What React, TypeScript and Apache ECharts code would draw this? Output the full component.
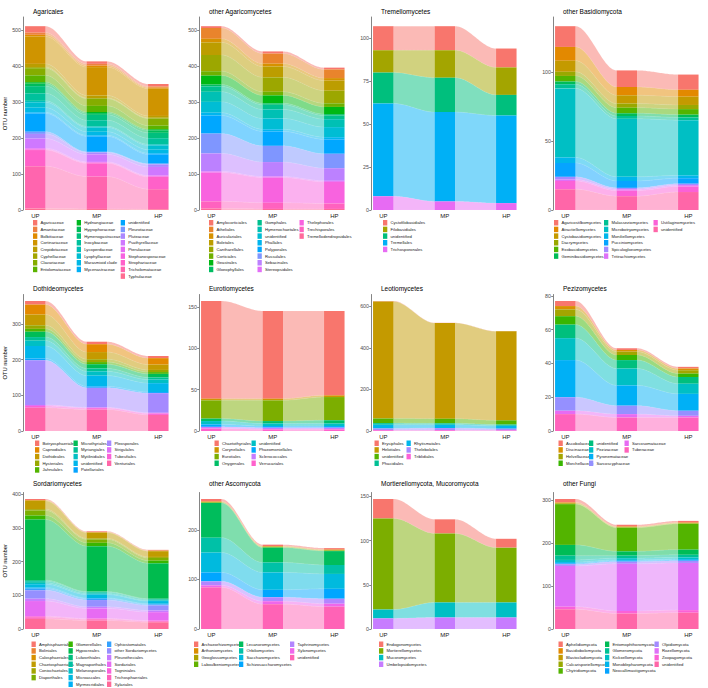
import React, { useEffect, useRef } from "react";
import * as echarts from "echarts";

const stages = ["UP", "MP", "HP"];

// ---------- Agaricales ----------
const agaricalesTaxa = ["Agaricaceae", "Amanitaceae", "Bolbitiaceae", "Cortinariaceae", "Crepidotaceae", "Cyphellaceae", "Clavariaceae", "Entolomataceae", "Hydnangiaceae", "Hygrophoraceae", "Hymenogastraceae", "Inocybaceae", "Lycoperdaceae", "Lyophyllaceae", "Marasmioid clade", "Mycenastraceae", "unidentified", "Pleurotaceae", "Pluteaceae", "Psathyrellaceae", "Pterulaceae", "Stephanosporaceae", "Strophariaceae", "Tricholomataceae", "Typhulaceae"];
const agaricalesUP = [18, 6, 5, 76, 9, 3, 20, 19, 4, 7, 20, 21, 4, 15, 13, 3, 51, 6, 13, 27, 3, 2, 45, 118, 4];
const agaricalesMP = [7, 5, 4, 79, 7, 2, 20, 17, 3, 5, 15, 17, 3, 12, 10, 3, 43, 2, 5, 21, 2, 2, 37, 90, 3];
const agaricalesHP = [7, 3, 3, 76, 5, 2, 20, 10, 3, 7, 15, 17, 3, 12, 10, 3, 26, 2, 7, 24, 2, 2, 34, 56, 2];
const agaricalesTicks = [0, 100, 200, 300, 400, 500];

// ---------- other Agaricomycetes ----------
const otherAgaricoTaxa = ["Amylocorticiales", "Atheliales", "Auriculariales", "Boletales", "Cantharellales", "Corticiales", "Geastrales", "Gloeophyllales", "Gomphales", "Hymenochaetales", "unidentified", "Phallales", "Polyporales", "Russulales", "Sebacinales", "Stereopsidales", "Thelephorales", "Trechisporales", "Tremellodendropsidales"];
const otherAgaricoUP = [5, 30, 10, 35, 45, 12, 25, 5, 15, 28, 30, 8, 50, 55, 50, 3, 80, 20, 4];
const otherAgaricoMP = [6, 28, 8, 30, 40, 10, 22, 4, 13, 25, 30, 6, 40, 45, 40, 3, 70, 17, 3];
const otherAgaricoHP = [5, 24, 7, 28, 35, 10, 20, 4, 10, 22, 28, 6, 40, 40, 35, 3, 60, 15, 3];
const otherAgaricoTicks = [0, 100, 200, 300, 400, 500];

// ---------- Tremellomycetes ----------
const tremelloTaxa = ["Cystofilobasidiales", "Filobasidiales", "unidentified", "Tremellales", "Trichosporonales"];
const tremelloUP = [14, 13, 18, 54, 8];
const tremelloMP = [14, 16, 20, 52, 5];
const tremelloHP = [11, 16, 12, 51, 4];
const tremelloTicks = [0, 25, 50, 75, 100];

// ---------- other Basidiomycota ----------
const otherBasidioTaxa = ["Agaricostilbomycetes", "Atractiellomycetes", "Cystobasidiomycetes", "Dacrymycetes", "Exobasidiomycetes", "Geminibasidiomycetes", "Malasseziomycetes", "Microbotryomycetes", "Moniliellomycetes", "Pucciniomycetes", "Spiculogloeomycetes", "Tritirachiomycetes", "Ustilaginomycetes", "unidentified"];
const otherBasidioUP = [15, 10, 8, 3, 4, 2, 3, 50, 4, 10, 2, 1, 6, 15];
const otherBasidioMP = [12, 6, 6, 3, 4, 2, 2, 42, 3, 5, 1, 1, 4, 10];
const otherBasidioHP = [11, 5, 6, 3, 4, 2, 2, 40, 2, 4, 1, 1, 4, 13];
const otherBasidioTicks = [0, 50, 100];

// ---------- Dothideomycetes ----------
const dothideoTaxa = ["Botryosphaeriales", "Capnodiales", "Dothideales", "Hysteriales", "Jahnulales", "Microthyriales", "Myriangiales", "Mytilinidiales", "unidentified", "Patellariales", "Pleosporales", "Strigulales", "Tubeufiales", "Venturiales"];
const dothideoUP = [10, 28, 30, 10, 8, 15, 10, 15, 35, 5, 125, 3, 5, 65];
const dothideoMP = [7, 22, 20, 8, 6, 12, 8, 12, 30, 4, 55, 2, 4, 60];
const dothideoHP = [6, 18, 15, 6, 5, 10, 6, 10, 25, 3, 55, 2, 4, 45];
const dothideoTicks = [0, 100, 200, 300];

// ---------- Eurotiomycetes ----------
const eurotioTaxa = ["Chaetothyriales", "Coryneliales", "Eurotiales", "Onygenales", "unidentified", "Phaeomoniellales", "Sclerococcales", "Verrucariales"];
const eurotioUP = [118, 2, 22, 3, 4, 3, 2, 3];
const eurotioMP = [106, 2, 25, 3, 3, 2, 2, 2];
const eurotioHP = [102, 2, 28, 4, 3, 2, 2, 2];
const eurotioTicks = [0, 50, 100, 150];

// ---------- Leotiomycetes ----------
const leotioTaxa = ["Erysiphales", "Helotiales", "unidentified", "Phacidiales", "Rhytismatales", "Thelebolales", "Triblidiales"];
const leotioUP = [2, 563, 22, 8, 18, 8, 4];
const leotioMP = [1, 460, 22, 7, 16, 10, 4];
const leotioHP = [1, 428, 20, 6, 14, 8, 3];
const leotioTicks = [0, 200, 400, 600];

// ---------- Pezizomycetes ----------
const pezizoTaxa = ["Ascobolaceae", "Discinaceae", "Helvellaceae", "Morchellaceae", "unidentified", "Pezizaceae", "Pyronemataceae", "Sarcoscyphaceae", "Sarcosomataceae", "Tuberaceae"];
const pezizoUP = [3, 2, 4, 5, 8, 13, 22, 8, 2, 10];
const pezizoMP = [1, 1, 2, 3, 5, 10, 12, 5, 2, 8];
const pezizoHP = [1, 1, 2, 2, 4, 6, 10, 3, 1, 8];
const pezizoTicks = [0, 20, 40, 60, 80];

// ---------- Sordariomycetes ----------
const sordarioTaxa = ["Amphisphaeriales", "Boliniales", "Calosphaeriales", "Chaetosphaeriales", "Coniochaetales", "Diaporthales", "Glomerellales", "Hypocreales", "Lulworthiales", "Magnaporthales", "Melanosporales", "Microascales", "Myrmecridiales", "Ophiostomatales", "other Sordariomycetes", "Pleurotheciales", "Sordariales", "Togniniales", "Trichosphaeriales", "Xylariales"];
const sordarioUP = [3, 1, 2, 24, 4, 15, 12, 180, 3, 5, 4, 10, 3, 5, 25, 7, 45, 3, 5, 30];
const sordarioMP = [2, 1, 1, 17, 3, 10, 10, 135, 2, 4, 3, 10, 2, 4, 20, 5, 30, 2, 4, 25];
const sordarioHP = [2, 1, 1, 17, 3, 8, 8, 105, 2, 3, 2, 8, 2, 3, 15, 5, 25, 2, 3, 20];
const sordarioTicks = [0, 100, 200, 300, 400];

// ---------- other Ascomycota ----------
const otherAscoTaxa = ["Archaeorhizomycetes", "Arthoniomycetes", "Geoglossomycetes", "Laboulbeniomycetes", "Lecanoromycetes", "Orbiliomycetes", "Saccharomycetes", "Schizosaccharomycetes", "Taphrinomycetes", "Xylonomycetes", "unidentified"];
const otherAscoUP = [5, 1, 1, 1, 70, 30, 40, 18, 8, 4, 84];
const otherAscoMP = [3, 1, 1, 1, 30, 20, 35, 15, 8, 6, 50];
const otherAscoHP = [3, 1, 1, 1, 28, 18, 30, 20, 10, 6, 45];
const otherAscoTicks = [0, 100, 200];

// ---------- Mortierellomycota, Mucoromycota ----------
const mortiTaxa = ["Endogonomycetes", "Mortierellomycetes", "Mucoromycetes", "Umbelopsidomycetes"];
const mortiUP = [22, 103, 10, 12];
const mortiMP = [16, 78, 17, 13];
const mortiHP = [10, 62, 17, 13];
const mortiTicks = [0, 50, 100, 150];

// ---------- other Fungi ----------
const otherFungiTaxa = ["Aphelidiomycota", "Basidiobolomycota", "Blastocladiomycota", "Calcarisporiellomycota", "Chytridiomycota", "Entomophthoromycota", "Glomeromycota", "Kickxellomycota", "Monoblepharomycota", "Neocallimastigomycota", "Olpidiomycota", "Rozellomycota", "Zoopagomycota", "unidentified"];
const otherFungiUP = [8, 1, 2, 1, 95, 25, 10, 5, 3, 2, 4, 95, 6, 46];
const otherFungiMP = [4, 1, 1, 1, 55, 10, 6, 4, 2, 2, 5, 110, 6, 36];
const otherFungiHP = [4, 1, 1, 1, 60, 12, 6, 4, 2, 2, 5, 110, 6, 38];
const otherFungiTicks = [0, 100, 200, 300];

// ---------- layout ----------
const FONT = "'Liberation Sans', Arial, Helvetica, sans-serif";
const COL_X = [23, 199, 371, 553];
const PLOT_W = 147.6;
const ROWS = [
  { top: 17, bottom: 210, titleY: 12, legendTop: 220 },
  { top: 294.5, bottom: 431, titleY: 289, legendTop: 440.5 },
  { top: 492.5, bottom: 629, titleY: 484, legendTop: 641.5 },
];
const HALF = 1 / 6;

const panels = [
  { title: "Agaricales", taxa: agaricalesTaxa, vals: [agaricalesUP, agaricalesMP, agaricalesHP], ticks: agaricalesTicks, cols: [8, 8, 9], lx: [33, 76.7, 120.7] },
  { title: "other Agaricomycetes", taxa: otherAgaricoTaxa, vals: [otherAgaricoUP, otherAgaricoMP, otherAgaricoHP], ticks: otherAgaricoTicks, cols: [8, 8, 3], lx: [209, 257.5, 299.5] },
  { title: "Tremellomycetes", taxa: tremelloTaxa, vals: [tremelloUP, tremelloMP, tremelloHP], ticks: tremelloTicks, cols: [5], lx: [383] },
  { title: "other Basidiomycota", taxa: otherBasidioTaxa, vals: [otherBasidioUP, otherBasidioMP, otherBasidioHP], ticks: otherBasidioTicks, cols: [6, 6, 2], lx: [554, 604, 653.5] },
  { title: "Dothideomycetes", taxa: dothideoTaxa, vals: [dothideoUP, dothideoMP, dothideoHP], ticks: dothideoTicks, cols: [5, 5, 4], lx: [35, 73.5, 107] },
  { title: "Eurotiomycetes", taxa: eurotioTaxa, vals: [eurotioUP, eurotioMP, eurotioHP], ticks: eurotioTicks, cols: [4, 4], lx: [214.5, 251.5] },
  { title: "Leotiomycetes", taxa: leotioTaxa, vals: [leotioUP, leotioMP, leotioHP], ticks: leotioTicks, cols: [4, 3], lx: [374.5, 406.5] },
  { title: "Pezizomycetes", taxa: pezizoTaxa, vals: [pezizoUP, pezizoMP, pezizoHP], ticks: pezizoTicks, cols: [4, 4, 2], lx: [558.5, 589, 624.5] },
  { title: "Sordariomycetes", taxa: sordarioTaxa, vals: [sordarioUP, sordarioMP, sordarioHP], ticks: sordarioTicks, cols: [6, 7, 7], lx: [31.5, 68.5, 107] },
  { title: "other Ascomycota", taxa: otherAscoTaxa, vals: [otherAscoUP, otherAscoMP, otherAscoHP], ticks: otherAscoTicks, cols: [4, 4, 3], lx: [194, 239, 290] },
  { title: "Mortierellomycota, Mucoromycota", taxa: mortiTaxa, vals: [mortiUP, mortiMP, mortiHP], ticks: mortiTicks, cols: [4], lx: [379] },
  { title: "other Fungi", taxa: otherFungiTaxa, vals: [otherFungiUP, otherFungiMP, otherFungiHP], ticks: otherFungiTicks, cols: [5, 5, 4], lx: [558.5, 605, 654.5] },
];

// ggplot2 default hue palette (hcl, c = 100, l = 65)
function hcl2hex(h: number, c: number, l: number): string {
  const hr = (h * Math.PI) / 180;
  const U = c * Math.cos(hr);
  const V = c * Math.sin(hr);
  const Xn = 95.047, Yn = 100, Zn = 108.883;
  const den = Xn + 15 * Yn + 3 * Zn;
  const un = (4 * Xn) / den, vn = (9 * Yn) / den;
  const Y = Yn * Math.pow((l + 16) / 116, 3);
  const up = U / (13 * l) + un;
  const vp = V / (13 * l) + vn;
  const X = (Y * 9 * up) / (4 * vp);
  const Z = (Y * (12 - 3 * up - 20 * vp)) / (4 * vp);
  const x = X / 100, y = Y / 100, z = Z / 100;
  const rl = 3.240479 * x - 1.53715 * y - 0.498535 * z;
  const gl = -0.969256 * x + 1.875992 * y + 0.041556 * z;
  const bl = 0.055648 * x - 0.204043 * y + 1.057311 * z;
  const gam = (v: number) => {
    const w = v <= 0.0031308 ? 12.92 * v : 1.055 * Math.pow(v, 1 / 2.4) - 0.055;
    return Math.max(0, Math.min(255, Math.round(w * 255)));
  };
  return "#" + [gam(rl), gam(gl), gam(bl)].map((v) => v.toString(16).padStart(2, "0")).join("");
}
function huePalette(n: number): string[] {
  const out: string[] = [];
  for (let i = 0; i < n; i++) out.push(hcl2hex(15 + (360 * i) / n, 100, 65));
  return out;
}

function renderAlluvium(params: any, api: any) {
  const kind = api.value(5);
  const x = api.value(0);
  const lo = api.value(1);
  const hi = api.value(2);
  const color = api.visual("color");
  if (kind === 0) {
    if (hi - lo <= 0) return null;
    const a = api.coord([x - HALF, hi]);
    const b = api.coord([x + HALF, lo]);
    return {
      type: "rect",
      shape: { x: a[0], y: a[1], width: b[0] - a[0], height: b[1] - a[1] },
      style: { fill: color },
    };
  }
  const nlo = api.value(3);
  const nhi = api.value(4);
  if (hi - lo <= 0 && nhi - nlo <= 0) return null;
  const N = 30;
  const top: number[][] = [];
  const bot: number[][] = [];
  for (let i = 0; i <= N; i++) {
    const t = i / N;
    const s = t * t * (3 - 2 * t);
    const xx = x + HALF + t * (1 - 2 * HALF);
    top.push(api.coord([xx, hi + (nhi - hi) * s]));
    bot.push(api.coord([xx, lo + (nlo - lo) * s]));
  }
  return {
    type: "polygon",
    shape: { points: top.concat(bot.reverse()) },
    style: { fill: color, opacity: 0.5, stroke: "rgba(255,255,255,0.5)", lineWidth: 0.3 },
  };
}

function buildOption() {
  const title: any[] = [];
  const grid: any[] = [];
  const xAxis: any[] = [];
  const yAxis: any[] = [];
  const legend: any[] = [];
  const series: any[] = [];

  panels.forEach((p, i) => {
    const r = Math.floor(i / 4);
    const c = i % 4;
    const row = ROWS[r];
    const n = p.taxa.length;
    const colors = huePalette(n);
    const totals = p.vals.map((v) => v.reduce((a, b) => a + b, 0));
    const ymax = Math.max(...totals) * 1.05;

    title.push({
      text: p.title,
      left: COL_X[c] + 10,
      top: row.titleY - 4,
      padding: 0,
      textStyle: { fontSize: 6.5, fontWeight: "normal", color: "#000", fontFamily: FONT },
    });
    grid.push({ left: COL_X[c], top: row.top, width: PLOT_W, height: row.bottom - row.top });
    xAxis.push({
      type: "value",
      gridIndex: i,
      min: 0.8,
      max: 3.2,
      axisLine: { show: false },
      axisTick: { show: false },
      splitLine: { show: false },
      axisLabel: {
        customValues: [1, 2, 3],
        formatter: (v: number) => stages[Math.round(v) - 1],
        fontSize: 6,
        color: "#1a1a1a",
        margin: 3,
        fontFamily: FONT,
      },
    });
    yAxis.push({
      type: "value",
      gridIndex: i,
      min: 0,
      max: ymax,
      name: c === 0 ? "OTU number" : "",
      nameLocation: "middle",
      nameGap: 12,
      nameTextStyle: { fontSize: 5.8, color: "#000", fontFamily: FONT },
      axisLine: { show: true, lineStyle: { color: "#333", width: 0.6 } },
      axisTick: { show: true, customValues: p.ticks, length: 1.8, lineStyle: { color: "#333", width: 0.6 } },
      axisLabel: { customValues: p.ticks, fontSize: 5.3, color: "#4d4d4d", margin: 2, fontFamily: FONT },
      splitLine: { show: false },
    });

    // stack: first taxon on top, last on bottom
    const lo: number[][] = [[], [], []];
    const hi: number[][] = [[], [], []];
    for (let s = 0; s < 3; s++) {
      let acc = 0;
      for (let k = n - 1; k >= 0; k--) {
        lo[s][k] = acc;
        acc += p.vals[s][k];
        hi[s][k] = acc;
      }
    }
    for (let k = 0; k < n; k++) {
      const data = [
        [1, lo[0][k], hi[0][k], lo[1][k], hi[1][k], 1],
        [2, lo[1][k], hi[1][k], lo[2][k], hi[2][k], 1],
        [1, lo[0][k], hi[0][k], 0, 0, 0],
        [2, lo[1][k], hi[1][k], 0, 0, 0],
        [3, lo[2][k], hi[2][k], 0, 0, 0],
      ];
      series.push({
        type: "custom",
        name: p.taxa[k],
        xAxisIndex: i,
        yAxisIndex: i,
        silent: true,
        itemStyle: { color: colors[k] },
        renderItem: renderAlluvium,
        encode: { x: 0, y: [1, 2] },
        data,
      });
    }

    let start = 0;
    p.cols.forEach((cnt, j) => {
      const names = p.taxa.slice(start, start + cnt);
      const st = start;
      legend.push({
        orient: "vertical",
        left: p.lx[j],
        top: row.legendTop,
        padding: 0,
        itemGap: 1.17,
        itemWidth: 4.3,
        itemHeight: 5.5,
        icon: "rect",
        selectedMode: false,
        itemStyle: { borderWidth: 0 },
        textStyle: { fontSize: 4.2, lineHeight: 5.5, color: "#1a1a1a", fontFamily: FONT, padding: [0, 0, 0, -1.8] },
        data: names.map((nm, q) => ({ name: nm, itemStyle: { color: colors[st + q], borderWidth: 0 } })),
      });
      start += cnt;
    });
  });

  return { animation: false, backgroundColor: "#fff", title, grid, xAxis, yAxis, legend, series };
}

export default function App() {
  const ref = useRef<HTMLDivElement>(null);
  useEffect(() => {
    if (!ref.current) return;
    const chart = echarts.init(ref.current, undefined, { renderer: "svg" });
    chart.setOption(buildOption() as any);
    return () => chart.dispose();
  }, []);
  return (
    <div
      ref={ref}
      style={{ position: "absolute", left: 0, top: 0, width: 708, height: 688, background: "#fff" }}
    />
  );
}
